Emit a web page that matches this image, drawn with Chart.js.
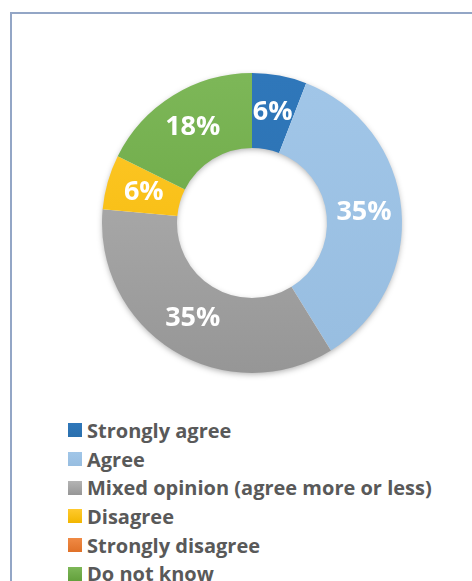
<!DOCTYPE html>
<html>
<head>
<meta charset="utf-8">
<script src="https://cdn.jsdelivr.net/npm/chart.js@4/dist/chart.umd.min.js"></script>
<style>
  html, body { margin: 0; padding: 0; background: #fff; overflow: hidden; }
  body { width: 472px; height: 581px; position: relative; }
  #frame {
    position: absolute; left: 10px; top: 12px; width: 600px; height: 700px;
    border-top: 2px solid #93a6c6; border-left: 2px solid #93a6c6;
  }
  #chartWrap { position: absolute; left: 92px; top: 63px; width: 320px; height: 320px; }
  #legend {
    position: absolute; left: 68px; top: 416px; margin: 0; padding: 0; list-style: none;
    font-family: "Open Sans", sans-serif; font-weight: bold; font-size: 20px; color: #595959;
  }
  #legend li { height: 28.7px; display: flex; align-items: center; white-space: nowrap; }
  #legend span.box { display: inline-block; width: 14px; height: 14px; margin-right: 5px; }
</style>
</head>
<body>
<div id="frame"></div>
<div id="chartWrap"><canvas id="pieChart" width="320" height="320"></canvas></div>
<ul id="legend"></ul>

<script>
    // 응답 분류
    const answerLabels = ['Strongly agree', 'Agree', 'Mixed opinion (agree more or less)', 'Disagree', 'Strongly disagree', 'Do not know'];
    // 응답 수 (17명)
    const answerCounts = [1, 6, 6, 1, 0, 3];
    // 라벨용 퍼센트 문자열
    const percentLabels = ['6%', '35%', '35%', '6%', '', '18%'];
    const sliceColors = ['#2e75b6', '#9dc3e6', '#a5a5a5', '#ffc000', '#ed7d31', '#70ad47'];
    const sliceTops = ['#2f77ba', '#a1c6e8', '#b4b4b4', '#ffca2e', '#f08a45', '#7db758'];
    const sliceBottoms = ['#2b70ae', '#97bde0', '#969696', '#f2b600', '#e07128', '#63a03c'];

    /**
     * 세로 그라데이션
     */
    let sliceGradient = (ctx) => {
        let chart = ctx.chart;
        let area = chart.chartArea;
        if (!area) return sliceColors[ctx.dataIndex];
        let g = chart.ctx.createLinearGradient(0, area.top, 0, area.bottom);
        g.addColorStop(0, sliceTops[ctx.dataIndex]);
        g.addColorStop(1, sliceBottoms[ctx.dataIndex]);
        return g;
    };

    // 링 그림자
    const ringShadow = {
        id: 'ringShadow',
        beforeDatasetsDraw(chart) {
            let arc = chart.getDatasetMeta(0).data[0];
            if (!arc) return;
            let c = chart.ctx;
            c.save();
            c.shadowColor = 'rgba(0,0,0,0.35)';
            c.shadowBlur = 6;
            c.shadowOffsetY = 2;
            c.fillStyle = '#ffffff';
            c.beginPath();
            c.arc(arc.x, arc.y, arc.outerRadius - 1, 0, Math.PI * 2);
            c.arc(arc.x, arc.y, arc.innerRadius + 1, 0, Math.PI * 2, true);
            c.fill();
            c.restore();
        }
    };

    // 퍼센트 라벨
    const sliceLabels = {
        id: 'sliceLabels',
        afterDatasetsDraw(chart) {
            let c = chart.ctx;
            let meta = chart.getDatasetMeta(0);
            c.save();
            c.fillStyle = '#ffffff';
            c.font = 'bold 27px "Open Sans", sans-serif';
            c.textAlign = 'center';
            c.textBaseline = 'middle';
            meta.data.forEach((arc, i) => {
                if (!answerCounts[i]) return;
                let p = arc.tooltipPosition();
                c.fillText(percentLabels[i], p.x, p.y);
            });
            c.restore();
        }
    };

    let pieChart = new Chart(document.getElementById('pieChart'), {
        type: 'doughnut',
        data: {
            labels: answerLabels,
            datasets: [{
                data: answerCounts,
                backgroundColor: sliceGradient,
                borderWidth: 0
            }]
        },
        options: {
            responsive: false,
            maintainAspectRatio: false,
            cutout: '50%',
            animation: { duration: 0 },
            layout: { padding: 10 },
            plugins: {
                legend: { display: false },
                tooltip: { enabled: false }
            }
        },
        plugins: [ringShadow, sliceLabels]
    });

    // 범례
    let legendBox = document.getElementById('legend');
    answerLabels.forEach((name, i) => {
        let li = document.createElement('li');
        li.innerHTML = '<span class="box" style="background:linear-gradient(' + sliceTops[i] + ',' + sliceBottoms[i] + ')"></span>' + name;
        legendBox.appendChild(li);
    });
</script>
</body>
</html>
